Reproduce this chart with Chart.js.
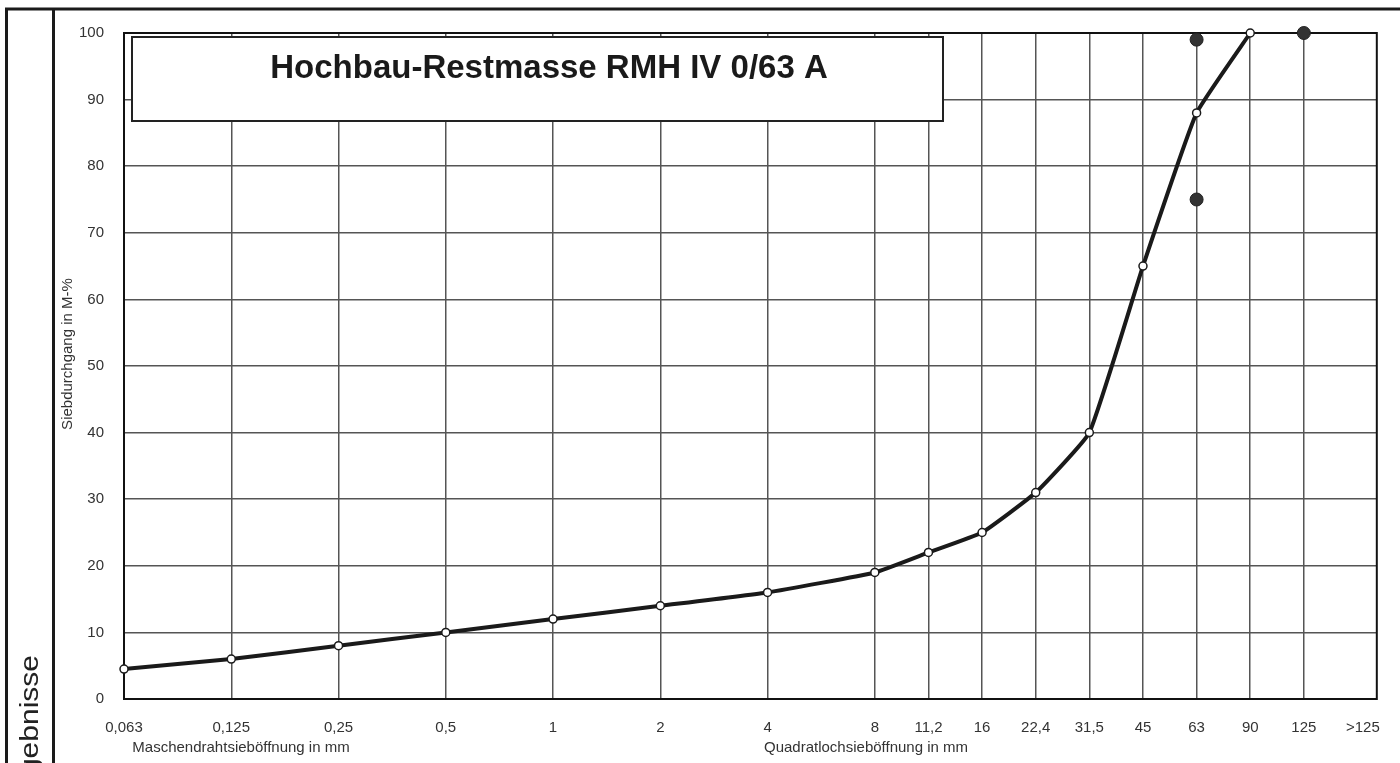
<!DOCTYPE html>
<html lang="de">
<head>
<meta charset="UTF-8">
<title>Hochbau-Restmasse RMH IV 0/63 A</title>
<script src="https://cdn.jsdelivr.net/npm/chart.js"></script>
<style>
  html, body { margin: 0; padding: 0; background: #fff; }
  #wrap { position: relative; width: 1400px; height: 763px; overflow: hidden; }
</style>
</head>
<body>
<div id="wrap">
  <canvas id="sieb" width="1400" height="763"></canvas>
</div>
<script>
// Siebe (Beschriftung und Lage auf der Achse in Siebstufen)
const sieveLabels = ['0,063', '0,125', '0,25', '0,5', '1', '2', '4', '8', '11,2', '16', '22,4', '31,5', '45', '63', '90', '125', '>125'];
const sieveSteps = [0, 1, 2, 3, 4, 5, 6, 7, 7.5, 8, 8.5, 9, 9.5, 10, 10.5, 11, 11.55];

// Siebdurchgang in M-% (0,063 ... 90)
const passing = [4.5, 6, 8, 10, 12, 14, 16, 19, 22, 25, 31, 40, 65, 88, 100];

// Grenzpunkte
const limitSieves = ['63', '63', '125'];
const limitValues = [99, 75, 100];

const chartTitle = 'Hochbau-Restmasse RMH IV 0/63 A';
const yTitle = 'Siebdurchgang in M-%';
const xTitleLeft = 'Maschendrahtsieböffnung in mm';
const xTitleRight = 'Quadratlochsieböffnung in mm';
const sideText = 'Ergebnisse';

const lineData = passing.map((v, i) => ({ x: sieveSteps[i], y: v }));
const limitData = limitSieves.map((s, i) => ({ x: sieveSteps[sieveLabels.indexOf(s)], y: limitValues[i] }));

Chart.defaults.font.family = '"Liberation Sans", Arial, sans-serif';
Chart.defaults.font.size = 15;
Chart.defaults.color = '#333';

// Rahmen, Titelkasten und Zusatztexte
const decor = {
  id: 'decor',
  beforeDraw(chart) {
    const c = chart.ctx;
    c.save();
    c.fillStyle = '#fff';
    c.fillRect(0, 0, chart.width, chart.height);
    c.strokeStyle = '#1a1a1a';
    c.lineWidth = 3;
    c.beginPath();
    c.moveTo(5, 9); c.lineTo(1400, 9);
    c.moveTo(6.5, 8); c.lineTo(6.5, 763);
    c.moveTo(53.5, 9); c.lineTo(53.5, 763);
    c.stroke();
    c.restore();
  },
  beforeDatasetsDraw(chart) {
    const c = chart.ctx;
    const a = chart.chartArea;
    c.save();
    c.strokeStyle = '#111';
    c.lineWidth = 2;
    c.strokeRect(a.left, a.top, a.right - a.left, a.bottom - a.top);
    // Titelkasten
    c.fillStyle = '#fff';
    c.fillRect(132, 37, 811, 84);
    c.strokeStyle = '#222';
    c.lineWidth = 2;
    c.strokeRect(132, 37, 811, 84);
    c.fillStyle = '#1a1a1a';
    c.font = 'bold 33px "Liberation Sans", Arial, sans-serif';
    c.textAlign = 'center';
    c.textBaseline = 'alphabetic';
    c.fillText(chartTitle, 549, 78);
    c.restore();
  },
  afterDraw(chart) {
    const c = chart.ctx;
    c.save();
    c.fillStyle = '#333';
    c.font = '15px "Liberation Sans", Arial, sans-serif';
    c.textAlign = 'center';
    c.textBaseline = 'middle';
    c.fillText(xTitleLeft, 241, 748);
    c.fillText(xTitleRight, 866, 748);
    // y-Achsentitel
    c.save();
    c.translate(68, 354);
    c.rotate(-Math.PI / 2);
    c.fillText(yTitle, 0, 0);
    c.restore();
    // abgeschnittener Seitentext
    c.save();
    c.fillStyle = '#222';
    c.font = '25px "Liberation Sans", Arial, sans-serif';
    c.translate(38, 655);
    c.rotate(-Math.PI / 2);
    c.scale(1.2, 1);
    c.textAlign = 'right';
    c.textBaseline = 'alphabetic';
    c.fillText(sideText, 0, 0);
    c.restore();
    c.restore();
  }
};

new Chart(document.getElementById('sieb'), {
  type: 'line',
  data: {
    datasets: [
      {
        label: 'Sieblinie',
        data: lineData,
        borderColor: '#1a1a1a',
        borderWidth: 4,
        tension: 0.12,
        pointRadius: 4,
        pointBackgroundColor: '#fff',
        pointBorderColor: '#1a1a1a',
        pointBorderWidth: 1.5,
        clip: false
      },
      {
        label: 'Grenzwerte',
        data: limitData,
        showLine: false,
        pointRadius: 6.5,
        pointBackgroundColor: '#333',
        pointBorderColor: '#222',
        pointBorderWidth: 1,
        clip: false
      }
    ]
  },
  options: {
    responsive: false,
    animation: false,
    layout: { padding: { left: 0, top: 33, right: 22, bottom: 0 } },
    plugins: {
      legend: { display: false },
      tooltip: { enabled: false }
    },
    scales: {
      x: {
        type: 'linear',
        min: 0,
        max: 11.68,
        afterFit(scale) { scale.height = 64; },
        afterBuildTicks(scale) {
          scale.ticks = sieveSteps.map(v => ({ value: v }));
        },
        ticks: {
          autoSkip: false,
          maxRotation: 0,
          padding: 20,
          color: '#333',
          callback: (v, i) => sieveLabels[i]
        },
        grid: {
          drawTicks: false,
          color: ctx => (ctx.index === sieveSteps.length - 1 ? 'rgba(0,0,0,0)' : '#555'),
          lineWidth: 1.5
        },
        border: { display: false }
      },
      y: {
        min: 0,
        max: 100,
        afterFit(scale) { scale.width = 124; },
        ticks: { stepSize: 10, padding: 20, color: '#333' },
        grid: { drawTicks: false, color: '#555', lineWidth: 1.5 },
        border: { display: false }
      }
    }
  },
  plugins: [decor]
});
</script>
</body>
</html>
